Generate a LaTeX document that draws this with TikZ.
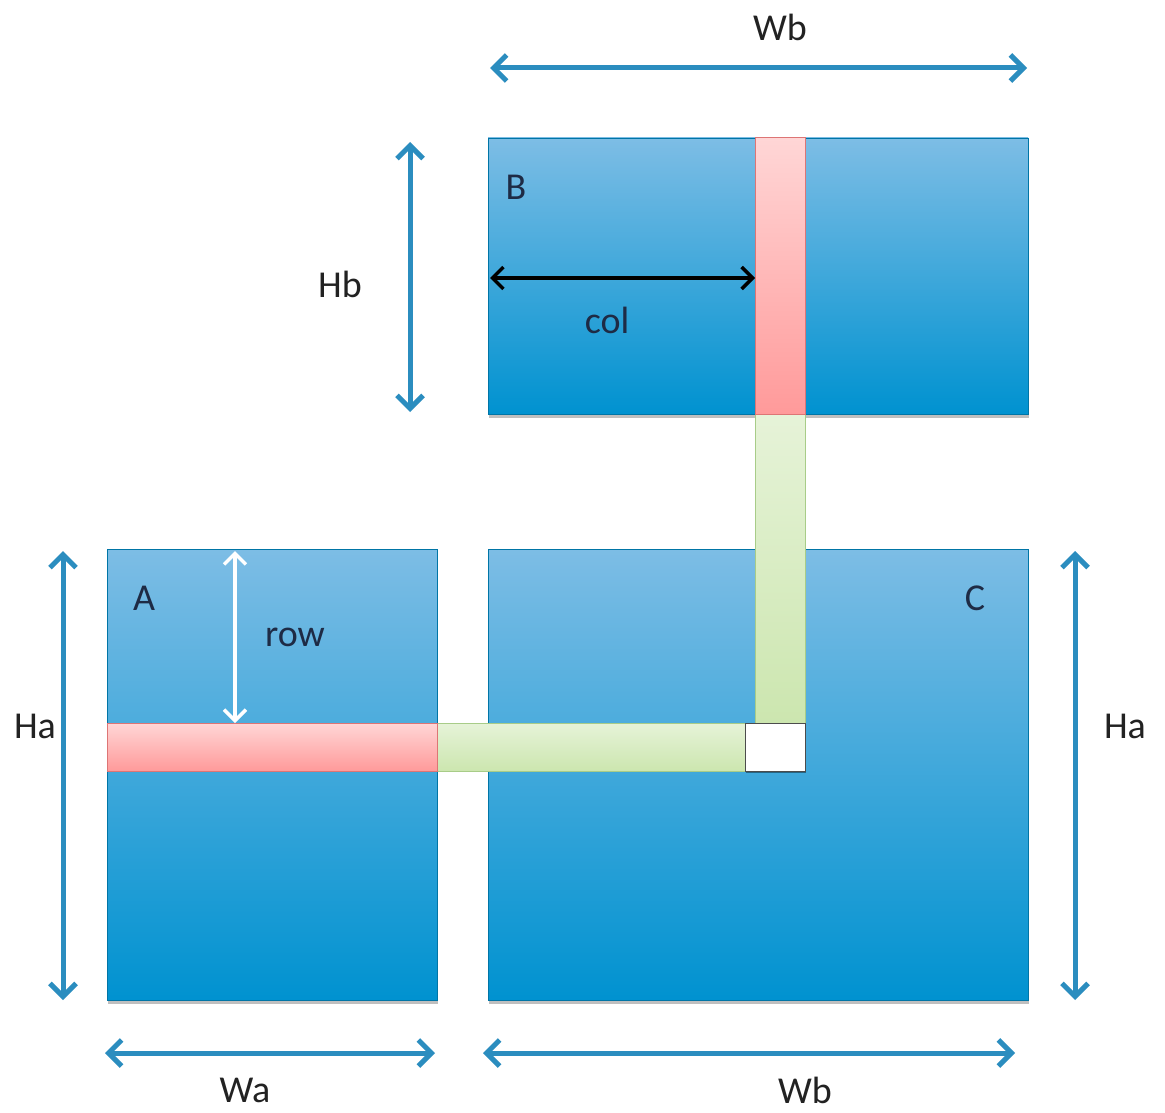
\documentclass[tikz,border=0pt]{standalone}
\usepackage{fontspec}
\setmainfont{Carlito}
\usetikzlibrary{arrows.meta,shadows}
\definecolor{blueTop}{HTML}{7DBDE5}
\definecolor{blueBot}{HTML}{0092D0}
\definecolor{arrowBlue}{HTML}{2B8DBF}
\definecolor{redTop}{HTML}{FFD6D6}
\definecolor{redBot}{HTML}{FF9A9A}
\definecolor{redLine}{HTML}{DD7575}
\definecolor{greenTop}{HTML}{E6F3D8}
\definecolor{greenBot}{HTML}{CCE6AF}
\definecolor{greenLine}{HTML}{A8CC88}
\definecolor{labelInk}{HTML}{1E2B45}
\definecolor{dimInk}{HTML}{222222}
\tikzset{
  x=1pt, y=-1pt,
  box/.style={rectangle, inner sep=0pt, outer sep=0pt, anchor=north west},
  mat/.style={box, top color=blueTop, bottom color=blueBot, draw=blueBot!80!black, line width=0.6pt,
    drop shadow={shadow xshift=1pt, shadow yshift=-4pt, opacity=0.25, fill=black}},
  redstrip/.style={box, top color=redTop, bottom color=redBot, draw=redLine, line width=1pt},
  greenstrip/.style={box, top color=greenTop, bottom color=greenBot, draw=greenLine, line width=1pt},
  dimarrow/.style={draw=arrowBlue, line width=5pt, {Straight Barb[length=13pt,width=26pt]}-{Straight Barb[length=13pt,width=26pt]}},
  blackarrow/.style={draw=black, line width=3.5pt, {Straight Barb[length=11pt,width=22pt]}-{Straight Barb[length=11pt,width=22pt]}},
  whitearrow/.style={draw=white, line width=3.5pt, {Straight Barb[length=11pt,width=22pt]}-{Straight Barb[length=11pt,width=22pt]}},
  lbl/.style={font=\fontsize{38}{44}\selectfont, text=labelInk, inner sep=0pt},
  dimlbl/.style={font=\fontsize{38}{44}\selectfont, text=dimInk, inner sep=0pt},
}
\begin{document}
\begin{tikzpicture}
\useasboundingbox[fill=white] (0,0) rectangle (1165,1113);

% matrices
\node[mat, minimum width=540pt, minimum height=276pt] (B) at (488,138) {};
\node[mat, minimum width=330pt, minimum height=451pt] (A) at (107,549) {};
\node[mat, minimum width=540pt, minimum height=451pt] (C) at (488,549) {};

% strips
\node[greenstrip, minimum width=50pt, minimum height=309pt] (gv) at (755,414) {};
\node[greenstrip, minimum width=308pt, minimum height=48pt] (gh) at (437,723) {};
\node[redstrip, minimum width=50pt, minimum height=276pt] (rc) at (755,138) {};
\node[redstrip, minimum width=330pt, minimum height=48pt] (rr) at (107,723) {};
\node[box, fill=white, draw=black!70, line width=1pt, minimum width=60pt, minimum height=48pt,
  drop shadow={shadow xshift=1pt, shadow yshift=-2pt, opacity=0.4, fill=black}] (cell) at (745,723) {};

% matrix labels
\node[lbl] (lA) at (144,598) {A};
\node[lbl] (lB) at (516,187) {B};
\node[lbl] (lC) at (975,598) {C};

% col / row arrows
\coordinate (colS) at (490,278);
\draw[blackarrow] (colS) -- (rc.west |- colS);
\node[lbl] (lcol) at (607,320) {col};
\coordinate (rowS) at (235,551);
\draw[whitearrow] (rowS) -- (rowS |- rr.north);
\node[lbl] (lrow) at (295,637) {row};

% dimension arrows
\coordinate (wbT1) at (490,68); \coordinate (wbT2) at (1027,68);
\draw[dimarrow] (wbT1) -- (wbT2);
\node[dimlbl] (lwbT) at (780,27) {Wb};

\coordinate (hb1) at (410,142); \coordinate (hb2) at (410,412);
\draw[dimarrow] (hb1) -- (hb2);
\node[dimlbl] (lhb) at (340,284) {Hb};

\coordinate (haL1) at (63,551); \coordinate (haL2) at (63,1000);
\draw[dimarrow] (haL1) -- (haL2);
\node[dimlbl] (lhaL) at (35,726) {Ha};

\coordinate (haR1) at (1075,551); \coordinate (haR2) at (1075,1000);
\draw[dimarrow] (haR1) -- (haR2);
\node[dimlbl] (lhaR) at (1125,726) {Ha};

\coordinate (wa1) at (105,1053); \coordinate (wa2) at (435,1053);
\draw[dimarrow] (wa1) -- (wa2);
\node[dimlbl] (lwa) at (245,1090) {Wa};

\coordinate (wbB1) at (483,1053); \coordinate (wbB2) at (1015,1053);
\draw[dimarrow] (wbB1) -- (wbB2);
\node[dimlbl] (lwbB) at (805,1090) {Wb};
\end{tikzpicture}
\end{document}
